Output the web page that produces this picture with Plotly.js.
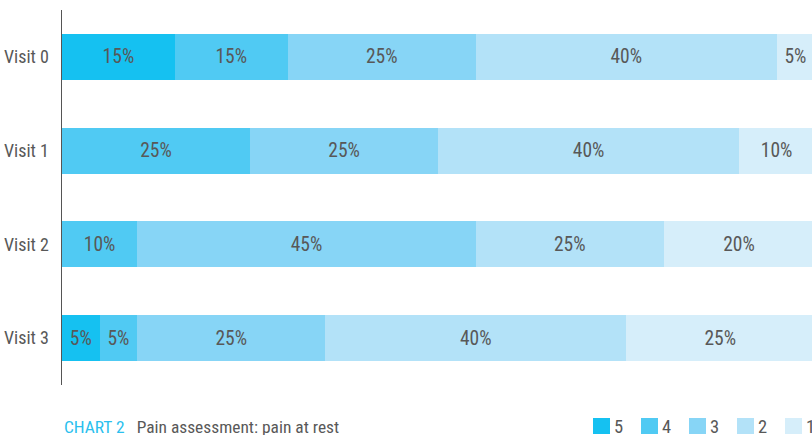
<!DOCTYPE html>
<html>
<head>
<meta charset="utf-8">
<script src="https://cdn.plot.ly/plotly-3.0.1.min.js"></script>
<style>html,body{margin:0;padding:0;background:#fff;}#chart{width:812px;height:435px;}</style>
</head>
<body>
<div id="chart"></div>
<script>
const visits = ["Visit 0", "Visit 1", "Visit 2", "Visit 3"];
const score5 = [15, null, null, 5];
const score4 = [15, 25, 10, 5];
const score3 = [25, 25, 45, 25];
const score2 = [40, 40, 25, 40];
const score1 = [5, 10, 20, 25];
const seriesNames = ["5", "4", "3", "2", "1"];
const seriesColors = ["#15c1f1", "#50caf3", "#87d5f6", "#b3e2f8", "#d6eefa"];
const seriesValues = [score5, score4, score3, score2, score1];

const FONT = '"Roboto Condensed", "Liberation Sans Narrow", "Arial Narrow", Roboto, sans-serif';
const GREY = '#585858';

const traces = seriesValues.map((vals, i) => ({
  type: 'bar',
  orientation: 'h',
  name: seriesNames[i],
  y: visits,
  x: vals,
  marker: {color: seriesColors[i], line: {width: 0}},
  texttemplate: '%{x}%',
  textposition: 'inside',
  insidetextanchor: 'middle',
  textangle: 0,
  constraintext: 'none',
  textfont: {family: FONT, size: 19.5, color: GREY},
  hoverinfo: 'skip',
  showlegend: false
}));

// Custom legend (paper coordinates), built from series names/colours
const plotL = 62, plotW = 750, plotB = 385, plotH = 375;
const px2x = p => (p - plotL) / plotW;
const px2y = p => (plotB - p) / plotH;
const legendStart = 593, legendStep = 48, sq = 17;
const shapes = seriesNames.map((n, i) => ({
  type: 'rect', xref: 'paper', yref: 'paper',
  x0: px2x(legendStart + i * legendStep), x1: px2x(legendStart + i * legendStep + sq),
  y0: px2y(434), y1: px2y(418),
  fillcolor: seriesColors[i], line: {width: 0}
}));
const annotations = seriesNames.map((n, i) => ({
  xref: 'paper', yref: 'paper',
  x: px2x(legendStart + i * legendStep + sq + 2), y: px2y(426.5),
  xanchor: 'left', yanchor: 'middle', showarrow: false,
  text: n, font: {family: FONT, size: 18.5, color: GREY}
}));
annotations.push({
  xref: 'paper', yref: 'paper', x: 0, y: px2y(426.5), xanchor: 'left', yanchor: 'middle', showarrow: false,
  text: '<span style="color:#2bbfee">CHART 2</span>\u00a0\u00a0 Pain assessment: pain at rest',
  font: {family: FONT, size: 17.4, color: GREY}
});

const layout = {
  width: 812,
  height: 435,
  margin: {l: 62, r: 0, t: 10, b: 50, autoexpand: false},
  paper_bgcolor: '#fff',
  plot_bgcolor: '#fff',
  barmode: 'stack',
  bargap: 0.51,
  font: {family: FONT, size: 16, color: GREY},
  xaxis: {range: [0, 99.7], showgrid: false, zeroline: false, showticklabels: false, showline: false, ticks: '', fixedrange: true},
  yaxis: {autorange: false, range: [3.5, -0.5], showgrid: false, zeroline: false, showline: true, linecolor: '#555', linewidth: 1.5, ticks: '', ticklabelstandoff: 8, automargin: false, tickfont: {family: FONT, size: 18, color: GREY}},
  showlegend: false,
  shapes: shapes,
  annotations: annotations
};

Plotly.newPlot('chart', traces, layout, {staticPlot: true, displayModeBar: false});
</script>
</body>
</html>
